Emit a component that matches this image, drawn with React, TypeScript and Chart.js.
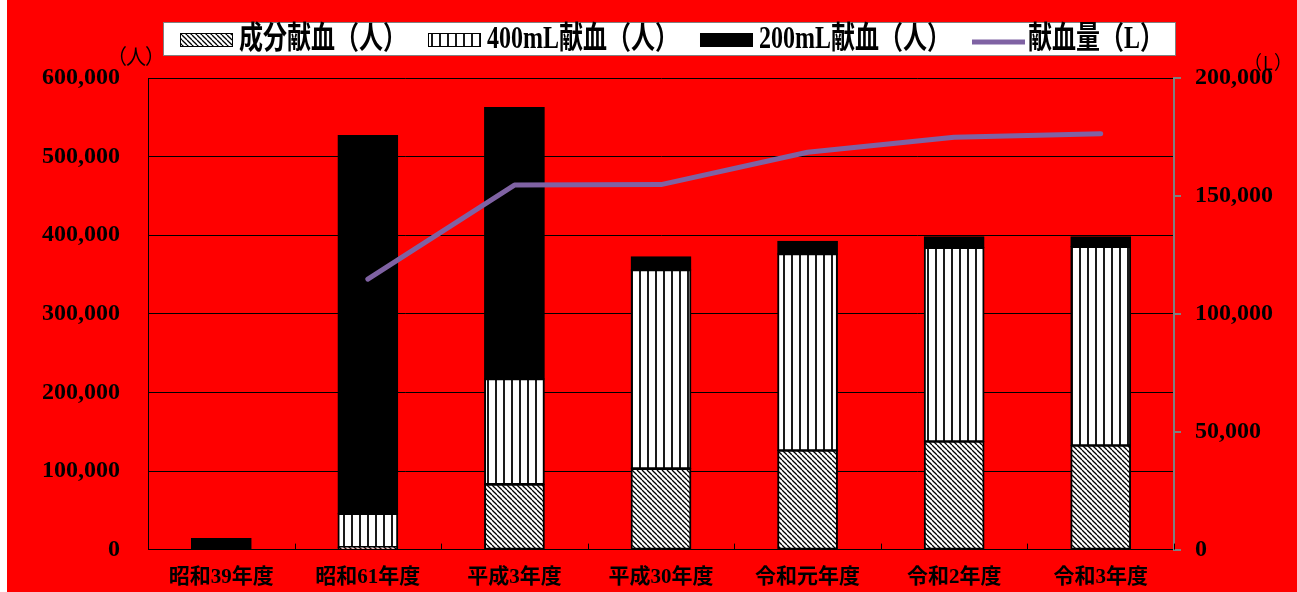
import React, { useEffect, useRef } from "react";
import { Chart, registerables } from "chart.js";

Chart.register(...registerables);

// 年度ごとの献血者数（人）と献血量（L）
const categories = ["昭和39年度", "昭和61年度", "平成3年度", "平成30年度", "令和元年度", "令和2年度", "令和3年度"];
const componentDonors = [null, 3000, 83000, 103000, 126000, 137500, 132500];
const donors400 = [null, 42700, 134000, 252800, 250100, 246700, 253000];
const donors200 = [14000, 481000, 345300, 16500, 15800, 13500, 12200];
const bloodVolume = [null, 114700, 154600, 154800, 168500, 174900, 176400];
const seriesLabels = ["成分献血（人）", "400mL献血（人）", "200mL献血（人）", "献血量（L）"];

const leftAxis = { max: 600000, step: 100000, unit: "（人）" };
const rightAxis = { max: 200000, step: 50000, unit: "（L）" };

const FAMILY = '"Liberation Serif", "Noto Sans CJK JP", serif';
const LEGEND_FONT = `bold 24px ${FAMILY}`;
const UNIT_FAMILY = '"Noto Sans CJK JP", "Noto Sans", sans-serif';
const BG = "#ff0000";
const LINE_COLOR = "#7f62a3";

const fmt = (v: number) => Number(v).toLocaleString("en-US");

function tallText(
  ctx: CanvasRenderingContext2D,
  text: string,
  x: number,
  y: number,
  font: string,
  align: CanvasTextAlign,
  sy: number
) {
  ctx.save();
  ctx.font = font;
  ctx.textAlign = align;
  ctx.textBaseline = "middle";
  ctx.fillStyle = "#000";
  ctx.translate(x, y);
  ctx.scale(1, sy);
  ctx.fillText(text, 0, 0);
  ctx.restore();
}

// unit captions: each character centred on a fixed pitch so the brackets sit close
function pitchedText(
  ctx: CanvasRenderingContext2D,
  text: string,
  cx: number,
  cy: number,
  font: string,
  pitch: number,
  sy: number
) {
  const chars = Array.from(text);
  chars.forEach((ch, i) => {
    tallText(ctx, ch, cx + (i - (chars.length - 1) / 2) * pitch, cy, font, "center", sy);
  });
}

function makeHatch(ctx: CanvasRenderingContext2D): CanvasPattern {
  const s = 5;
  const c = document.createElement("canvas");
  c.width = s;
  c.height = s;
  const g = c.getContext("2d")!;
  g.fillStyle = "#fff";
  g.fillRect(0, 0, s, s);
  g.strokeStyle = "#000";
  g.lineWidth = 1.3;
  for (const k of [-s, 0, s]) {
    g.beginPath();
    g.moveTo(0, k);
    g.lineTo(s, k + s);
    g.stroke();
  }
  return ctx.createPattern(c, "repeat")!;
}

function makeStripes(ctx: CanvasRenderingContext2D): CanvasPattern {
  const c = document.createElement("canvas");
  c.width = 8;
  c.height = 8;
  const g = c.getContext("2d")!;
  g.fillStyle = "#fff";
  g.fillRect(0, 0, 8, 8);
  g.fillStyle = "#1a1a1a";
  g.fillRect(0, 0, 2, 8);
  return ctx.createPattern(c, "repeat")!;
}

const backgroundPlugin = {
  id: "redBackground",
  beforeDraw(chart: any) {
    const { ctx, width, height } = chart;
    ctx.save();
    ctx.fillStyle = BG;
    ctx.fillRect(0, 0, width, height);
    ctx.restore();
  },
};

// short category separators rising from the x axis
const innerTicksPlugin = {
  id: "innerTicks",
  afterDatasetsDraw(chart: any) {
    const xs = chart.scales.x;
    const n = chart.data.labels.length;
    const step = xs.getPixelForValue(1) - xs.getPixelForValue(0);
    const bottom = chart.chartArea.bottom;
    const ctx = chart.ctx;
    ctx.save();
    ctx.strokeStyle = "#000";
    ctx.lineWidth = 1;
    for (let i = 0; i <= n; i++) {
      const px = Math.round(xs.getPixelForValue(0) - step / 2 + i * step) + 0.5;
      ctx.beginPath();
      ctx.moveTo(px, bottom);
      ctx.lineTo(px, bottom - 6);
      ctx.stroke();
    }
    ctx.restore();
  },
};

const legendPlugin = {
  id: "boxLegend",
  afterDraw(chart: any) {
    const ctx: CanvasRenderingContext2D = chart.ctx;
    const box = { l: 156, t: 22, r: 1169, b: 56 };
    const cy = (box.t + box.b) / 2;
    ctx.save();
    ctx.fillStyle = "#fff";
    ctx.fillRect(box.l, box.t, box.r - box.l, box.b - box.t);
    ctx.strokeStyle = "#808080";
    ctx.lineWidth = 1;
    ctx.strokeRect(box.l + 0.5, box.t + 0.5, box.r - box.l - 1, box.b - box.t - 1);
    let x = box.l + 17;
    chart.data.datasets.forEach((ds: any) => {
      const sw = 53;
      const sh = 14;
      if (ds.type === "line") {
        ctx.strokeStyle = ds.borderColor;
        ctx.lineWidth = 5;
        ctx.beginPath();
        ctx.moveTo(x, cy + 3);
        ctx.lineTo(x + sw, cy + 3);
        ctx.stroke();
        x += sw + 3;
      } else {
        ctx.fillStyle = ds.backgroundColor;
        ctx.fillRect(x, cy - sh / 2 + 1, sw, sh);
        ctx.strokeStyle = "#000";
        ctx.lineWidth = 1;
        ctx.strokeRect(x + 0.5, cy - sh / 2 + 1.5, sw - 1, sh - 1);
        x += sw + 6;
      }
      ctx.font = LEGEND_FONT;
      const w = ctx.measureText(ds.label).width;
      tallText(ctx, ds.label, x, cy + 1, LEGEND_FONT, "left", 1.3);
      x += w + 21;
    });

    // axis units
    const area = chart.chartArea;
    pitchedText(ctx, leftAxis.unit, area.left - 12, 56, `20px ${UNIT_FAMILY}`, 19, 1.05);
    pitchedText(ctx, rightAxis.unit, area.right + 94, 63, `18px ${UNIT_FAMILY}`, 15, 1.05);
    ctx.restore();
  },
};

export default function App() {
  const ref = useRef<HTMLCanvasElement>(null);

  useEffect(() => {
    const canvas = ref.current!;
    const ctx = canvas.getContext("2d")!;
    const hatch = makeHatch(ctx);
    const stripes = makeStripes(ctx);

    const barCommon = {
      type: "bar" as const,
      yAxisID: "y",
      borderColor: "#000",
      borderWidth: 2,
      borderSkipped: false,
      inflateAmount: 0.7,
      barPercentage: 0.405,
      categoryPercentage: 1,
      order: 1,
    };

    const tickFont = { family: FAMILY, weight: "bold" as const, size: 24 };

    const chart = new Chart(canvas, {
      data: {
        labels: categories,
        datasets: [
          { ...barCommon, label: seriesLabels[0], data: componentDonors, backgroundColor: hatch },
          { ...barCommon, label: seriesLabels[1], data: donors400, backgroundColor: stripes },
          { ...barCommon, label: seriesLabels[2], data: donors200, backgroundColor: "#000" },
          {
            type: "line",
            label: seriesLabels[3],
            data: bloodVolume,
            yAxisID: "y1",
            borderColor: LINE_COLOR,
            backgroundColor: LINE_COLOR,
            borderWidth: 5,
            borderCapStyle: "round",
            borderJoinStyle: "round",
            pointRadius: 0,
            tension: 0,
            fill: false,
            order: 0,
          },
        ] as any,
      },
      options: {
        responsive: false,
        animation: false,
        devicePixelRatio: 1,
        layout: { padding: { top: 78, left: 0, right: 0, bottom: 0 } },
        plugins: { legend: { display: false }, tooltip: { enabled: false } },
        scales: {
          x: {
            stacked: true,
            offset: true,
            grid: { drawOnChartArea: false, drawTicks: false },
            border: { display: true, color: "#000", width: 1 },
            ticks: {
              color: "#000",
              font: { family: FAMILY, weight: "bold", size: 21 },
              padding: 15,
              maxRotation: 0,
              autoSkip: false,
            },
            afterFit: (s: any) => {
              s.height = 41;
            },
          },
          y: {
            stacked: true,
            min: 0,
            max: leftAxis.max,
            ticks: {
              stepSize: leftAxis.step,
              color: "#000",
              font: tickFont,
              padding: 28,
              callback: (v: any) => fmt(v),
            },
            grid: { color: "#000", lineWidth: 1, drawTicks: false },
            border: { color: "#000", width: 1 },
            afterFit: (s: any) => {
              s.width = 141;
            },
          },
          y1: {
            position: "right",
            min: 0,
            max: rightAxis.max,
            ticks: {
              stepSize: rightAxis.step,
              color: "#000",
              font: tickFont,
              padding: 14,
              callback: (v: any) => fmt(v),
            },
            grid: { drawOnChartArea: false, color: "#808080", lineWidth: 2, tickLength: 7 },
            border: { color: "#808080", width: 2 },
            afterFit: (s: any) => {
              s.width = 123;
            },
          },
        },
      } as any,
      plugins: [backgroundPlugin, innerTicksPlugin, legendPlugin],
    });

    return () => chart.destroy();
  }, []);

  return (
    <div style={{ position: "absolute", left: 0, top: 0, width: 1297, height: 592, background: "#fff", overflow: "hidden" }}>
      <canvas ref={ref} width={1290} height={592} style={{ position: "absolute", left: 7, top: 0, display: "block" }} />
    </div>
  );
}
